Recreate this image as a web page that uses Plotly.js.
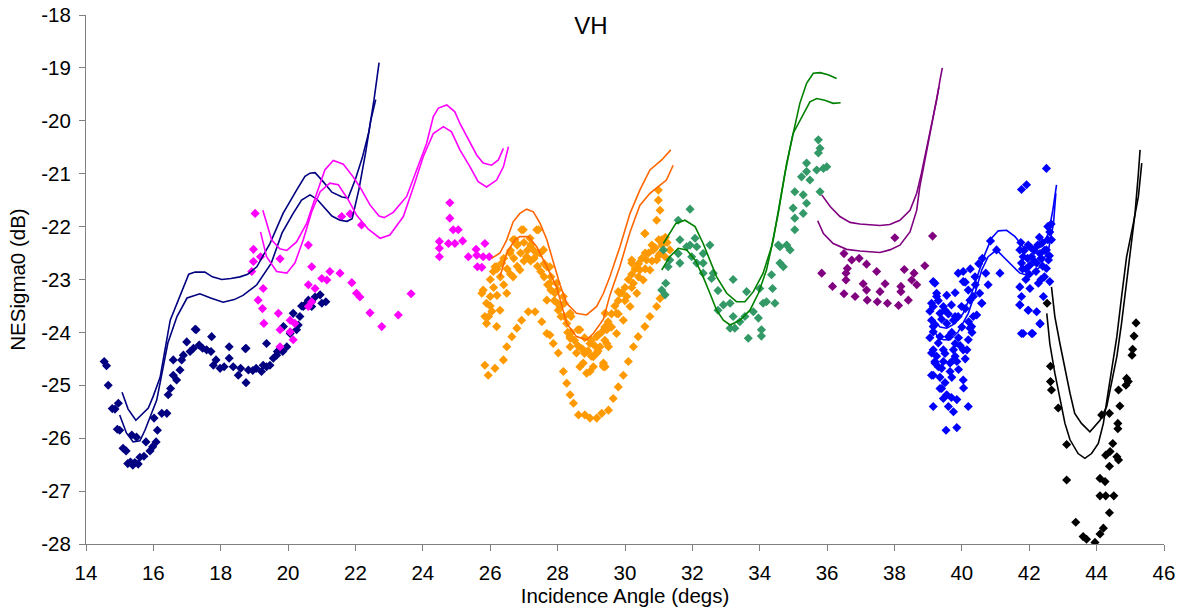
<!DOCTYPE html>
<html>
<head>
<meta charset="utf-8">
<script src="https://cdn.plot.ly/plotly-3.0.1.min.js"></script>
<style>html,body{margin:0;padding:0;background:#fff;}#chart{width:1190px;height:612px;}</style>
</head>
<body>
<div id="chart"></div>
<script>
// ---- data: [incidence angle, NESigma0] ----
const navyPts = [[14.54,-24.55],[14.61,-24.63],[14.66,-25.0],[14.78,-25.44],[14.86,-25.45],[14.96,-25.34],[14.93,-25.83],[15.0,-25.85],[15.1,-26.19],[15.19,-26.24],[15.24,-26.48],[15.32,-26.45],[15.39,-26.51],[15.45,-26.46],[15.55,-26.49],[15.6,-26.36],[15.72,-26.34],[15.36,-25.94],[15.5,-25.98],[15.78,-26.07],[15.9,-26.24],[15.98,-26.16],[16.08,-26.07],[16.12,-25.85],[16.02,-25.62],[16.25,-25.53],[16.4,-25.53],[16.44,-25.18],[16.51,-25.06],[16.59,-24.81],[16.69,-24.9],[16.79,-24.71],[16.84,-24.52],[16.59,-24.52],[16.89,-24.43],[16.99,-24.18],[17.09,-24.36],[17.27,-23.95],[17.19,-24.3],[17.36,-24.24],[17.46,-24.3],[17.58,-24.33],[17.73,-24.08],[17.71,-24.36],[17.78,-24.62],[17.86,-24.52],[17.98,-24.68],[18.1,-24.65],[18.25,-24.27],[18.25,-24.49],[18.37,-24.65],[18.52,-24.81],[18.59,-24.68],[18.75,-24.3],[18.75,-24.95],[18.82,-24.71],[18.95,-24.72],[19.05,-24.68],[19.21,-24.74],[19.36,-24.65],[19.36,-24.21],[19.46,-24.62],[19.56,-24.49],[19.68,-24.36],[19.86,-23.89],[19.84,-24.36],[19.96,-24.27],[20.06,-24.02],[20.15,-23.64],[20.3,-23.86],[20.4,-23.5],[20.5,-23.48],[20.7,-23.42],[21.0,-23.45],[20.45,-23.51],[20.6,-23.39],[20.8,-23.33],[20.95,-23.29],[21.12,-23.42],[20.7,-23.51],[19.26,-24.62],[19.66,-24.43],[18.73,-24.31],[17.24,-23.94],[20.25,-23.95],[20.35,-23.7]];
const navyLineA = [[15.07,-25.13],[15.25,-25.45],[15.48,-25.66],[15.85,-25.43],[16.0,-25.2],[16.2,-24.85],[16.5,-23.77],[16.85,-23.2],[17.05,-22.9],[17.24,-22.86],[17.53,-22.86],[17.75,-22.95],[18.03,-23.0],[18.3,-22.98],[18.57,-22.95],[18.8,-22.9],[19.07,-22.76],[19.46,-22.32],[19.85,-21.75],[20.26,-21.3],[20.5,-21.05],[20.65,-20.99],[20.8,-20.98],[21.04,-21.15],[21.3,-21.35],[21.6,-21.44],[21.78,-21.46],[22.0,-21.1],[22.2,-20.7],[22.4,-20.2],[22.55,-19.6],[22.7,-18.9]];
const navyLineB = [[15.0,-25.56],[15.2,-25.9],[15.4,-26.07],[15.6,-26.05],[15.75,-25.85],[16.1,-25.28],[16.43,-24.2],[16.7,-23.7],[17.0,-23.35],[17.38,-23.27],[17.7,-23.35],[18.07,-23.43],[18.4,-23.38],[18.66,-23.3],[19.07,-23.1],[19.5,-22.69],[19.82,-22.12],[20.15,-21.75],[20.4,-21.5],[20.65,-21.4],[20.85,-21.48],[21.04,-21.62],[21.3,-21.8],[21.54,-21.88],[21.75,-21.9],[21.9,-21.85],[22.1,-21.3],[22.3,-20.6],[22.45,-20.0],[22.6,-19.6]];

const magentaPts = [[19.02,-21.75],[18.97,-22.43],[19.18,-22.57],[18.97,-22.66],[18.92,-22.85],[19.76,-22.61],[19.26,-23.17],[19.11,-23.39],[19.24,-23.55],[19.28,-23.83],[19.71,-23.64],[19.76,-23.95],[20.06,-23.99],[20.15,-24.14],[19.76,-24.27],[20.06,-23.77],[20.2,-23.83],[20.6,-22.35],[20.7,-22.76],[20.6,-23.1],[20.8,-23.17],[21.0,-22.98],[21.15,-23.01],[21.24,-22.85],[21.54,-22.88],[20.6,-23.51],[20.7,-23.42],[21.59,-21.81],[21.84,-21.76],[21.89,-23.06],[22.03,-23.26],[22.18,-21.97],[22.13,-23.33],[22.43,-23.63],[22.78,-23.89],[23.27,-23.67],[23.65,-23.27],[24.8,-21.55],[24.8,-21.84],[24.9,-22.06],[25.05,-22.06],[24.49,-22.28],[24.49,-22.41],[24.49,-22.57],[24.76,-22.32],[24.95,-22.32],[25.18,-22.27],[25.35,-22.57],[25.58,-22.43],[25.62,-22.76],[25.75,-22.77],[25.84,-22.32],[25.79,-22.57],[25.97,-22.57],[25.6,-22.54]];
const magentaLineA = [[19.25,-21.69],[19.51,-22.25],[19.75,-22.42],[19.96,-22.45],[20.25,-22.29],[20.55,-21.94],[20.85,-21.37],[21.09,-20.93],[21.34,-20.75],[21.64,-20.82],[21.93,-21.06],[22.13,-21.25],[22.43,-21.59],[22.7,-21.8],[22.85,-21.83],[23.12,-21.73],[23.52,-21.43],[23.82,-20.93],[24.11,-20.43],[24.31,-19.92],[24.46,-19.76],[24.71,-19.7],[24.95,-19.83],[25.1,-20.05],[25.3,-20.3],[25.6,-20.65],[25.79,-20.8],[26.04,-20.84],[26.24,-20.74],[26.39,-20.52]];
const magentaLineB = [[19.18,-22.1],[19.36,-22.57],[19.66,-22.85],[19.96,-22.88],[20.2,-22.69],[20.45,-22.25],[20.7,-21.72],[20.95,-21.34],[21.24,-21.18],[21.49,-21.21],[21.79,-21.5],[22.03,-21.78],[22.38,-22.05],[22.73,-22.22],[23.02,-22.16],[23.42,-21.81],[23.72,-21.25],[24.01,-20.68],[24.31,-20.24],[24.61,-20.11],[24.85,-20.21],[25.1,-20.55],[25.4,-20.87],[25.64,-21.15],[25.89,-21.25],[26.19,-21.12],[26.39,-20.87],[26.54,-20.49]];

const orangePts = [[25.84,-24.62],[25.94,-24.81],[26.14,-24.68],[26.39,-24.52],[26.49,-24.27],[26.64,-24.08],[26.79,-23.92],[26.93,-23.77],[27.13,-23.61],[27.33,-23.61],[27.53,-23.8],[27.68,-24.02],[27.87,-24.21],[28.02,-24.39],[28.17,-24.74],[28.27,-24.96],[28.37,-25.18],[28.47,-25.34],[28.62,-25.56],[28.81,-25.56],[28.96,-25.62],[29.16,-25.62],[29.31,-25.53],[29.51,-25.47],[29.65,-25.25],[29.8,-25.03],[29.95,-24.81],[30.1,-24.55],[30.25,-24.27],[30.39,-24.08],[30.59,-23.89],[30.74,-23.7],[30.94,-23.51],[31.04,-23.36],
[30.99,-21.31],[30.99,-21.5],[31.04,-21.69],[30.94,-21.88],[30.59,-22.13],[30.2,-22.63],[29.8,-23.23],[29.41,-23.64],[29.36,-24.62],
[25.79,-23.2],[26.09,-22.85],[26.34,-22.69],[26.58,-22.5],[26.79,-22.32],[26.98,-22.06],[27.18,-22.22],[27.43,-22.06],[27.58,-22.44],[27.77,-22.76],[27.97,-23.07],[28.17,-23.32],[28.37,-23.64],[28.66,-23.95],[28.96,-24.21],[29.26,-24.27],[29.46,-23.95],
[25.89,-23.45],[25.89,-23.83],[26.19,-23.89],[26.29,-23.58],[26.49,-23.26],[26.68,-22.95],[26.88,-22.82],[27.08,-22.57],[27.28,-22.44],[27.48,-22.5],[27.68,-22.76],[27.77,-23.07],[27.92,-23.26],[28.07,-23.51],[28.27,-23.83],[28.37,-24.08],[28.56,-24.39],[28.76,-24.58],[28.96,-24.74],[29.36,-24.58],[29.51,-24.27],
[25.75,-23.26],[26.0,-23.32],[25.84,-23.7],[26.14,-22.76],[26.68,-22.25],[26.93,-22.06],[27.38,-22.06],[27.68,-23.39],[27.77,-24.05],[28.37,-24.11],[28.76,-24.33],[29.06,-24.46],[29.41,-24.65],[28.02,-23.58],[26.73,-22.25],[26.19,-22.76],[28.37,-24.27],[28.66,-24.65],[28.86,-24.77],[29.16,-24.39],
[29.16,-24.08],[29.46,-23.89],[29.75,-23.64],[30.05,-23.32],[30.25,-23.07],[30.44,-22.82],[30.64,-22.63],[30.84,-22.44],[31.09,-22.25],[31.33,-22.44],
[29.16,-24.39],[29.46,-24.21],[29.75,-24.02],[29.95,-23.77],[30.15,-23.51],[30.35,-23.26],[30.54,-23.01],[30.74,-22.82],[30.94,-22.63],[31.19,-22.57],
[29.06,-24.65],[29.36,-24.65],[29.85,-23.26],[30.2,-22.69],[30.59,-22.13],[31.04,-22.51],
[26.0,-23.0],[26.2,-22.8],[26.4,-22.6],[26.6,-22.45],[26.8,-22.35],[27.0,-22.3],[27.2,-22.35],[27.4,-22.5],[27.6,-22.7],[27.8,-22.95],[28.0,-23.2],[28.2,-23.45],[28.4,-23.7],[28.6,-23.95],[28.8,-24.1],[29.0,-24.15],[29.2,-24.05],[29.4,-23.9],[29.6,-23.65],[29.8,-23.4],[30.0,-23.15],[30.2,-22.9],[30.4,-22.7],[30.6,-22.5],[30.8,-22.35],[31.0,-22.25],[31.2,-22.2],
[26.0,-23.5],[26.2,-23.3],[26.4,-23.1],[26.6,-22.9],[26.8,-22.75],[27.0,-22.65],[27.2,-22.65],[27.4,-22.75],[27.6,-22.95],[27.8,-23.2],[28.0,-23.45],[28.2,-23.7],[28.4,-24.0],[28.6,-24.25],[28.8,-24.4],[29.0,-24.45],[29.2,-24.35],[29.4,-24.15],[29.6,-23.9],[29.8,-23.65],[30.0,-23.4],[30.2,-23.15],[30.4,-22.95],[30.6,-22.8],[30.8,-22.65],[31.0,-22.55],
[26.5,-22.8],[26.7,-22.6],[26.9,-22.5],[27.1,-22.45],[27.3,-22.6],[27.5,-22.85],[27.7,-23.1],[27.9,-23.4],[28.1,-23.7],[28.3,-24.0],[28.5,-24.15],[28.7,-24.3],[28.9,-24.35],[29.1,-24.25],[29.3,-24.0],[29.5,-23.8],[29.7,-23.5],[29.9,-23.25],[30.1,-23.0],[30.3,-22.8],[30.5,-22.6],[30.7,-22.5],[30.9,-22.4],[31.1,-22.35],[31.25,-22.3],[26.1,-23.15],[26.3,-22.95],[25.95,-23.7],[26.05,-23.6]];
const orangeLineA = [[26.04,-22.6],[26.29,-22.5],[26.49,-22.25],[26.68,-21.91],[26.88,-21.75],[27.08,-21.67],[27.28,-21.72],[27.48,-21.94],[27.68,-22.25],[27.87,-22.69],[28.07,-23.1],[28.27,-23.45],[28.56,-23.64],[28.86,-23.67],[29.16,-23.51],[29.36,-23.26],[29.55,-22.95],[29.85,-22.38],[30.15,-21.75],[30.44,-21.31],[30.74,-20.93],[31.09,-20.74],[31.36,-20.55]];
const orangeLineB = [[26.29,-22.95],[26.49,-22.5],[26.73,-22.25],[26.88,-22.19],[27.13,-22.19],[27.38,-22.38],[27.68,-22.76],[27.97,-23.14],[28.27,-23.83],[28.56,-24.08],[28.86,-24.14],[29.06,-24.02],[29.36,-23.75],[29.55,-23.3],[29.85,-22.75],[30.15,-22.1],[30.44,-21.6],[30.74,-21.37],[31.23,-21.12],[31.43,-20.84]];

const seagreenPts = [[31.93,-21.67],[31.58,-21.88],[31.63,-22.25],[31.83,-22.38],[32.08,-22.22],[31.93,-22.35],[32.13,-22.38],[32.52,-22.35],[32.32,-22.51],[31.58,-22.51],[31.63,-22.69],[31.33,-22.63],[31.28,-22.76],[31.14,-22.44],[31.98,-22.57],[32.13,-22.69],[32.32,-22.69],[32.32,-22.88],[32.62,-22.88],[32.57,-22.98],[31.21,-23.07],[31.09,-23.2],[31.19,-23.29],[32.76,-23.21],[33.21,-23.0],[33.61,-23.23],[34.0,-23.17],[34.38,-23.17],[32.76,-23.58],[32.92,-23.48],[33.12,-23.45],[33.21,-23.7],[33.12,-23.92],[33.26,-23.92],[33.41,-23.8],[33.56,-23.7],[33.81,-23.61],[33.96,-23.73],[33.66,-24.11],[34.05,-23.95],[34.05,-24.07],[34.1,-23.45],[34.2,-23.42],[34.45,-23.45],[34.35,-22.91],[34.6,-22.69],[34.7,-22.76],[34.6,-22.38],[34.8,-22.35],[34.9,-22.44],[34.55,-22.35],[35.04,-22.06],[35.04,-21.84],[34.99,-21.65],[35.29,-21.75],[35.39,-21.56],[35.04,-21.34],[35.29,-21.4],[35.79,-21.34],[35.24,-21.06],[35.49,-21.12],[35.39,-20.96],[35.39,-20.8],[35.69,-20.93],[35.89,-20.9],[35.99,-20.87],[35.74,-20.61],[35.79,-20.52],[35.74,-20.36]];
const greenLineA = [[31.14,-22.32],[31.33,-22.13],[31.51,-21.94],[31.78,-21.88],[32.08,-22.0],[32.32,-22.32],[32.52,-22.63],[32.72,-22.95],[33.02,-23.26],[33.31,-23.42],[33.56,-23.42],[33.81,-23.23],[34.1,-22.88],[34.35,-22.38],[34.55,-21.75],[34.75,-20.99],[34.95,-20.36],[35.09,-19.98],[35.19,-19.67],[35.39,-19.29],[35.59,-19.1],[35.79,-19.09],[36.03,-19.13],[36.28,-19.2]];
const greenLineB = [[31.09,-22.82],[31.33,-22.57],[31.58,-22.41],[31.83,-22.44],[32.08,-22.63],[32.32,-22.95],[32.52,-23.26],[32.72,-23.58],[32.92,-23.77],[33.12,-23.86],[33.41,-23.77],[33.71,-23.58],[33.96,-23.26],[34.2,-22.82],[34.4,-22.25],[34.6,-21.5],[34.8,-20.8],[34.99,-20.24],[35.34,-19.8],[35.49,-19.64],[35.69,-19.58],[35.93,-19.61],[36.18,-19.67],[36.4,-19.66]];

const purplePts = [[35.84,-22.88],[36.16,-23.13],[36.5,-22.51],[36.73,-22.63],[36.95,-22.6],[37.17,-22.71],[36.6,-22.79],[36.56,-22.88],[36.56,-23.01],[37.47,-22.85],[36.5,-23.27],[36.83,-23.32],[37.07,-23.08],[37.17,-23.2],[37.19,-23.39],[37.49,-23.42],[37.57,-23.23],[37.72,-23.08],[37.79,-23.45],[38.12,-23.49],[38.19,-23.13],[38.19,-23.23],[38.41,-23.39],[38.29,-22.81],[38.51,-23.01],[38.58,-22.88],[38.66,-23.1],[38.9,-22.74],[38.01,-22.21],[39.13,-22.18]];
const purpleLineA = [[35.84,-21.4],[36.09,-21.62],[36.38,-21.81],[36.68,-21.92],[36.97,-21.95],[37.27,-21.97],[37.57,-21.98],[37.86,-21.96],[38.16,-21.88],[38.46,-21.69],[38.66,-21.37],[38.8,-20.99],[38.95,-20.55],[39.1,-20.11],[39.25,-19.61],[39.35,-19.23],[39.42,-19.0]];
const purpleLineB = [[35.72,-21.89],[35.89,-22.13],[36.18,-22.32],[36.58,-22.43],[36.97,-22.46],[37.27,-22.47],[37.57,-22.49],[37.86,-22.44],[38.16,-22.35],[38.46,-22.1],[38.66,-21.69],[38.75,-21.25],[38.9,-20.74],[39.05,-20.24],[39.2,-19.73],[39.32,-19.36]];

const bluePts = [[42.51,-20.9],[41.77,-21.3],[41.92,-21.21],[42.61,-22.1],[42.66,-22.25],[41.97,-22.35],[41.72,-22.44],[41.82,-22.57],[42.07,-22.57],[42.32,-22.51],[42.51,-22.44],[42.57,-22.63],[41.77,-22.69],[42.02,-22.73],[42.22,-22.69],[42.51,-22.79],[41.72,-23.14],[42.02,-23.17],[42.27,-23.07],[42.61,-23.04],[41.77,-23.32],[41.72,-23.48],[41.97,-23.58],[42.22,-23.61],[42.42,-23.32],[42.32,-23.83],[41.82,-24.02],[42.1,-24.02],[41.13,-22.88],[41.03,-22.44],[40.85,-22.27],[40.61,-22.6],[40.39,-22.95],[40.78,-23.1],[40.71,-22.88],[40.53,-23.26],[40.59,-23.45],[40.34,-23.32],[40.04,-22.85],[40.04,-23.04],[40.19,-23.2],[40.24,-23.39],[39.99,-23.51],[39.69,-23.48],[39.2,-23.07],[39.25,-23.32],[39.1,-23.45],[39.35,-23.64],[39.5,-23.58],[39.1,-23.77],[39.55,-23.83],[39.75,-23.77],[39.89,-23.7],[40.34,-23.7],[40.24,-23.92],[39.15,-23.99],[39.35,-24.08],[39.6,-24.08],[40.19,-24.14],[39.8,-24.21],[39.15,-24.33],[39.45,-24.33],[39.75,-24.33],[40.04,-24.33],[39.2,-24.55],[39.45,-24.55],[39.75,-24.52],[39.15,-24.81],[39.65,-24.74],[40.04,-24.9],[39.4,-25.06],[39.55,-25.18],[39.69,-25.23],[39.85,-25.27],[39.15,-25.4],[40.19,-25.4],[39.53,-25.85],[39.85,-25.8],[39.15,-23.04],[39.25,-23.26],[39.15,-23.51],[39.45,-23.51],[39.8,-23.7],[39.89,-22.88],[39.15,-23.89],[39.1,-24.39],[39.2,-24.58],[39.1,-24.81],[39.35,-25.06],[39.4,-24.68],[39.65,-24.58],[39.85,-24.55],[40.15,-24.33],[40.29,-23.89],[40.44,-23.67],[40.59,-23.45],[41.77,-24.02],[42.07,-24.02],[42.32,-23.84],[41.97,-23.58],[41.72,-23.48],[42.4,-22.3],[42.15,-22.45],[41.9,-22.8],[42.45,-22.95],
[39.05,-23.6],[39.2,-23.85],[39.3,-24.2],[39.4,-23.75],[39.5,-24.4],[39.6,-23.65],[39.7,-24.0],[39.8,-24.45],[39.9,-24.1],[40.0,-23.9],[40.1,-23.55],[40.2,-23.8],[39.25,-24.45],[39.35,-24.85],[39.5,-24.95],[39.7,-24.85],[39.9,-24.7],[40.1,-24.5],[39.3,-23.4],[39.55,-23.3],[39.8,-23.25],[40.1,-23.05],[40.4,-23.1],[40.5,-22.7],[40.25,-22.8],[39.6,-25.4],[39.75,-25.5],[39.3,-24.65],[39.05,-24.1],[39.95,-24.25],[40.3,-24.0],[40.05,-25.05],[39.45,-25.25],
[41.75,-22.3],[41.85,-22.45],[41.95,-22.6],[42.05,-22.4],[42.15,-22.65],[42.25,-22.35],[42.35,-22.6],[42.45,-22.45],[42.55,-22.25],[42.6,-22.55],[41.8,-22.8],[42.0,-22.9],[42.2,-22.85],[42.4,-22.75],[42.55,-22.0],[42.65,-21.95],[42.3,-22.2],[41.9,-23.0],[42.35,-23.0]];
const blueLineA = [[39.15,-23.75],[39.35,-23.9],[39.55,-23.92],[39.8,-23.83],[40.04,-23.64],[40.29,-23.26],[40.49,-22.88],[40.69,-22.51],[40.88,-22.22],[41.08,-22.08],[41.33,-22.07],[41.58,-22.19],[41.82,-22.38],[42.12,-22.44],[42.37,-22.38],[42.57,-22.13],[42.7,-21.69],[42.81,-21.21]];
const blueLineB = [[39.15,-23.95],[39.3,-24.1],[39.45,-24.14],[39.65,-24.14],[39.89,-23.99],[40.19,-23.64],[40.39,-23.26],[40.59,-22.82],[40.78,-22.57],[41.03,-22.44],[41.23,-22.57],[41.48,-22.73],[41.72,-22.88],[42.02,-22.93],[42.32,-22.76],[42.57,-22.44],[42.72,-21.94],[42.79,-21.37]];

const blackPts = [[42.53,-23.45],[42.63,-24.64],[42.63,-24.93],[42.66,-25.09],[42.86,-25.43],[43.11,-26.12],[43.11,-26.79],[43.38,-27.59],[43.6,-27.86],[43.7,-27.91],[43.95,-27.97],[44.1,-27.81],[44.2,-27.7],[44.38,-27.41],[44.1,-27.09],[44.27,-27.09],[44.51,-27.09],[44.1,-26.76],[44.25,-26.82],[44.38,-26.53],[44.27,-26.32],[44.48,-26.1],[44.4,-26.25],[44.65,-26.41],[44.6,-26.35],[44.15,-25.56],[44.38,-25.53],[44.65,-25.09],[44.69,-25.39],[44.63,-25.72],[44.63,-25.82],[44.87,-25.0],[44.94,-24.93],[44.89,-24.87],[45.05,-24.43],[45.07,-24.32],[45.11,-24.07],[45.17,-23.82]];
const blackLineA = [[42.66,-23.14],[42.76,-23.7],[42.91,-24.21],[43.06,-24.71],[43.21,-25.15],[43.35,-25.53],[43.55,-25.72],[43.8,-25.88],[44.1,-25.66],[44.3,-25.4],[44.45,-24.96],[44.6,-24.46],[44.74,-23.83],[44.89,-23.01],[45.04,-22.25],[45.14,-21.75],[45.24,-20.99],[45.29,-20.55]];
const blackLineB = [[42.52,-23.64],[42.61,-24.21],[42.76,-24.77],[42.91,-25.28],[43.06,-25.72],[43.21,-26.03],[43.45,-26.29],[43.65,-26.38],[43.85,-26.29],[44.05,-26.1],[44.2,-25.72],[44.32,-25.22],[44.45,-24.71],[44.6,-24.08],[44.74,-23.33],[44.89,-22.57],[45.09,-21.94],[45.24,-21.43],[45.34,-20.8]];

const xTickVals = [14,16,18,20,22,24,26,28,30,32,34,36,38,40,42,44,46];
const xTickText = ['14','16','18','20','22','24','26','28','30','32','34','36','38','40','42','44','46'];
const yTickVals = [-28,-27,-26,-25,-24,-23,-22,-21,-20,-19,-18];
const yTickText = ['-28','-27','-26','-25','-24','-23','-22','-21','-20','-19','-18'];

// ---- styles ----
const groups = [
  {pts: navyPts, lines: [navyLineA, navyLineB], mc: '#000080', lc: '#000080'},
  {pts: magentaPts, lines: [magentaLineA, magentaLineB], mc: '#FF00FF', lc: '#FF00FF'},
  {pts: orangePts, lines: [orangeLineA, orangeLineB], mc: '#FF9900', lc: '#FF6600'},
  {pts: seagreenPts, lines: [greenLineA, greenLineB], mc: '#339966', lc: '#008000'},
  {pts: purplePts, lines: [purpleLineA, purpleLineB], mc: '#800080', lc: '#800080'},
  {pts: bluePts, lines: [blueLineA, blueLineB], mc: '#0000FF', lc: '#0000FF'},
  {pts: blackPts, lines: [blackLineA, blackLineB], mc: '#000000', lc: '#000000'}
];

const traces = [];
groups.forEach(g => {
  traces.push({
    type: 'scatter', mode: 'markers',
    x: g.pts.map(p => p[0]), y: g.pts.map(p => p[1]),
    marker: {symbol: 'diamond', size: 7, color: g.mc, line: {width: 0}},
    hoverinfo: 'skip'
  });
});
groups.forEach(g => {
  g.lines.forEach(l => {
    traces.push({
      type: 'scatter', mode: 'lines',
      x: l.map(p => p[0]), y: l.map(p => p[1]),
      line: {color: g.lc, width: 1.6},
      hoverinfo: 'skip'
    });
  });
});

const fontFam = 'Arial, "Liberation Sans", sans-serif';
const layout = {
  width: 1190, height: 612,
  margin: {l: 86, r: 26, t: 15, b: 68},
  paper_bgcolor: '#ffffff', plot_bgcolor: '#ffffff',
  showlegend: false,
  font: {family: fontFam, color: '#000000', size: 20.5},
  title: {text: 'VH', font: {family: fontFam, size: 24, color: '#000000'},
          xref: 'container', x: 0.4966, xanchor: 'center',
          yref: 'container', y: 0.9575, yanchor: 'middle'},
  xaxis: {
    range: [14, 46], tickmode: 'array', tickvals: xTickVals, ticktext: xTickText,
    ticks: 'outside', ticklen: 6, tickwidth: 1, tickcolor: '#808080',
    showline: true, linecolor: '#808080', linewidth: 1,
    showgrid: false, zeroline: false, ticklabelstandoff: 4,
    tickfont: {family: fontFam, size: 20.5, color: '#000000'},
    title: {text: 'Incidence Angle (degs)', font: {family: fontFam, size: 20.5, color: '#000000'}, standoff: 3}
  },
  yaxis: {
    range: [-28, -18], tickmode: 'array', tickvals: yTickVals, ticktext: yTickText,
    ticks: 'outside', ticklen: 6, tickwidth: 1, tickcolor: '#808080',
    showline: true, linecolor: '#808080', linewidth: 1,
    showgrid: false, zeroline: false, ticklabelstandoff: 4,
    tickfont: {family: fontFam, size: 20.5, color: '#000000'},
    title: {text: 'NESigma0 (dB)', font: {family: fontFam, size: 20.5, color: '#000000'}, standoff: 10}
  }
};

Plotly.newPlot('chart', traces, layout, {staticPlot: true, displayModeBar: false});
</script>
</body>
</html>
